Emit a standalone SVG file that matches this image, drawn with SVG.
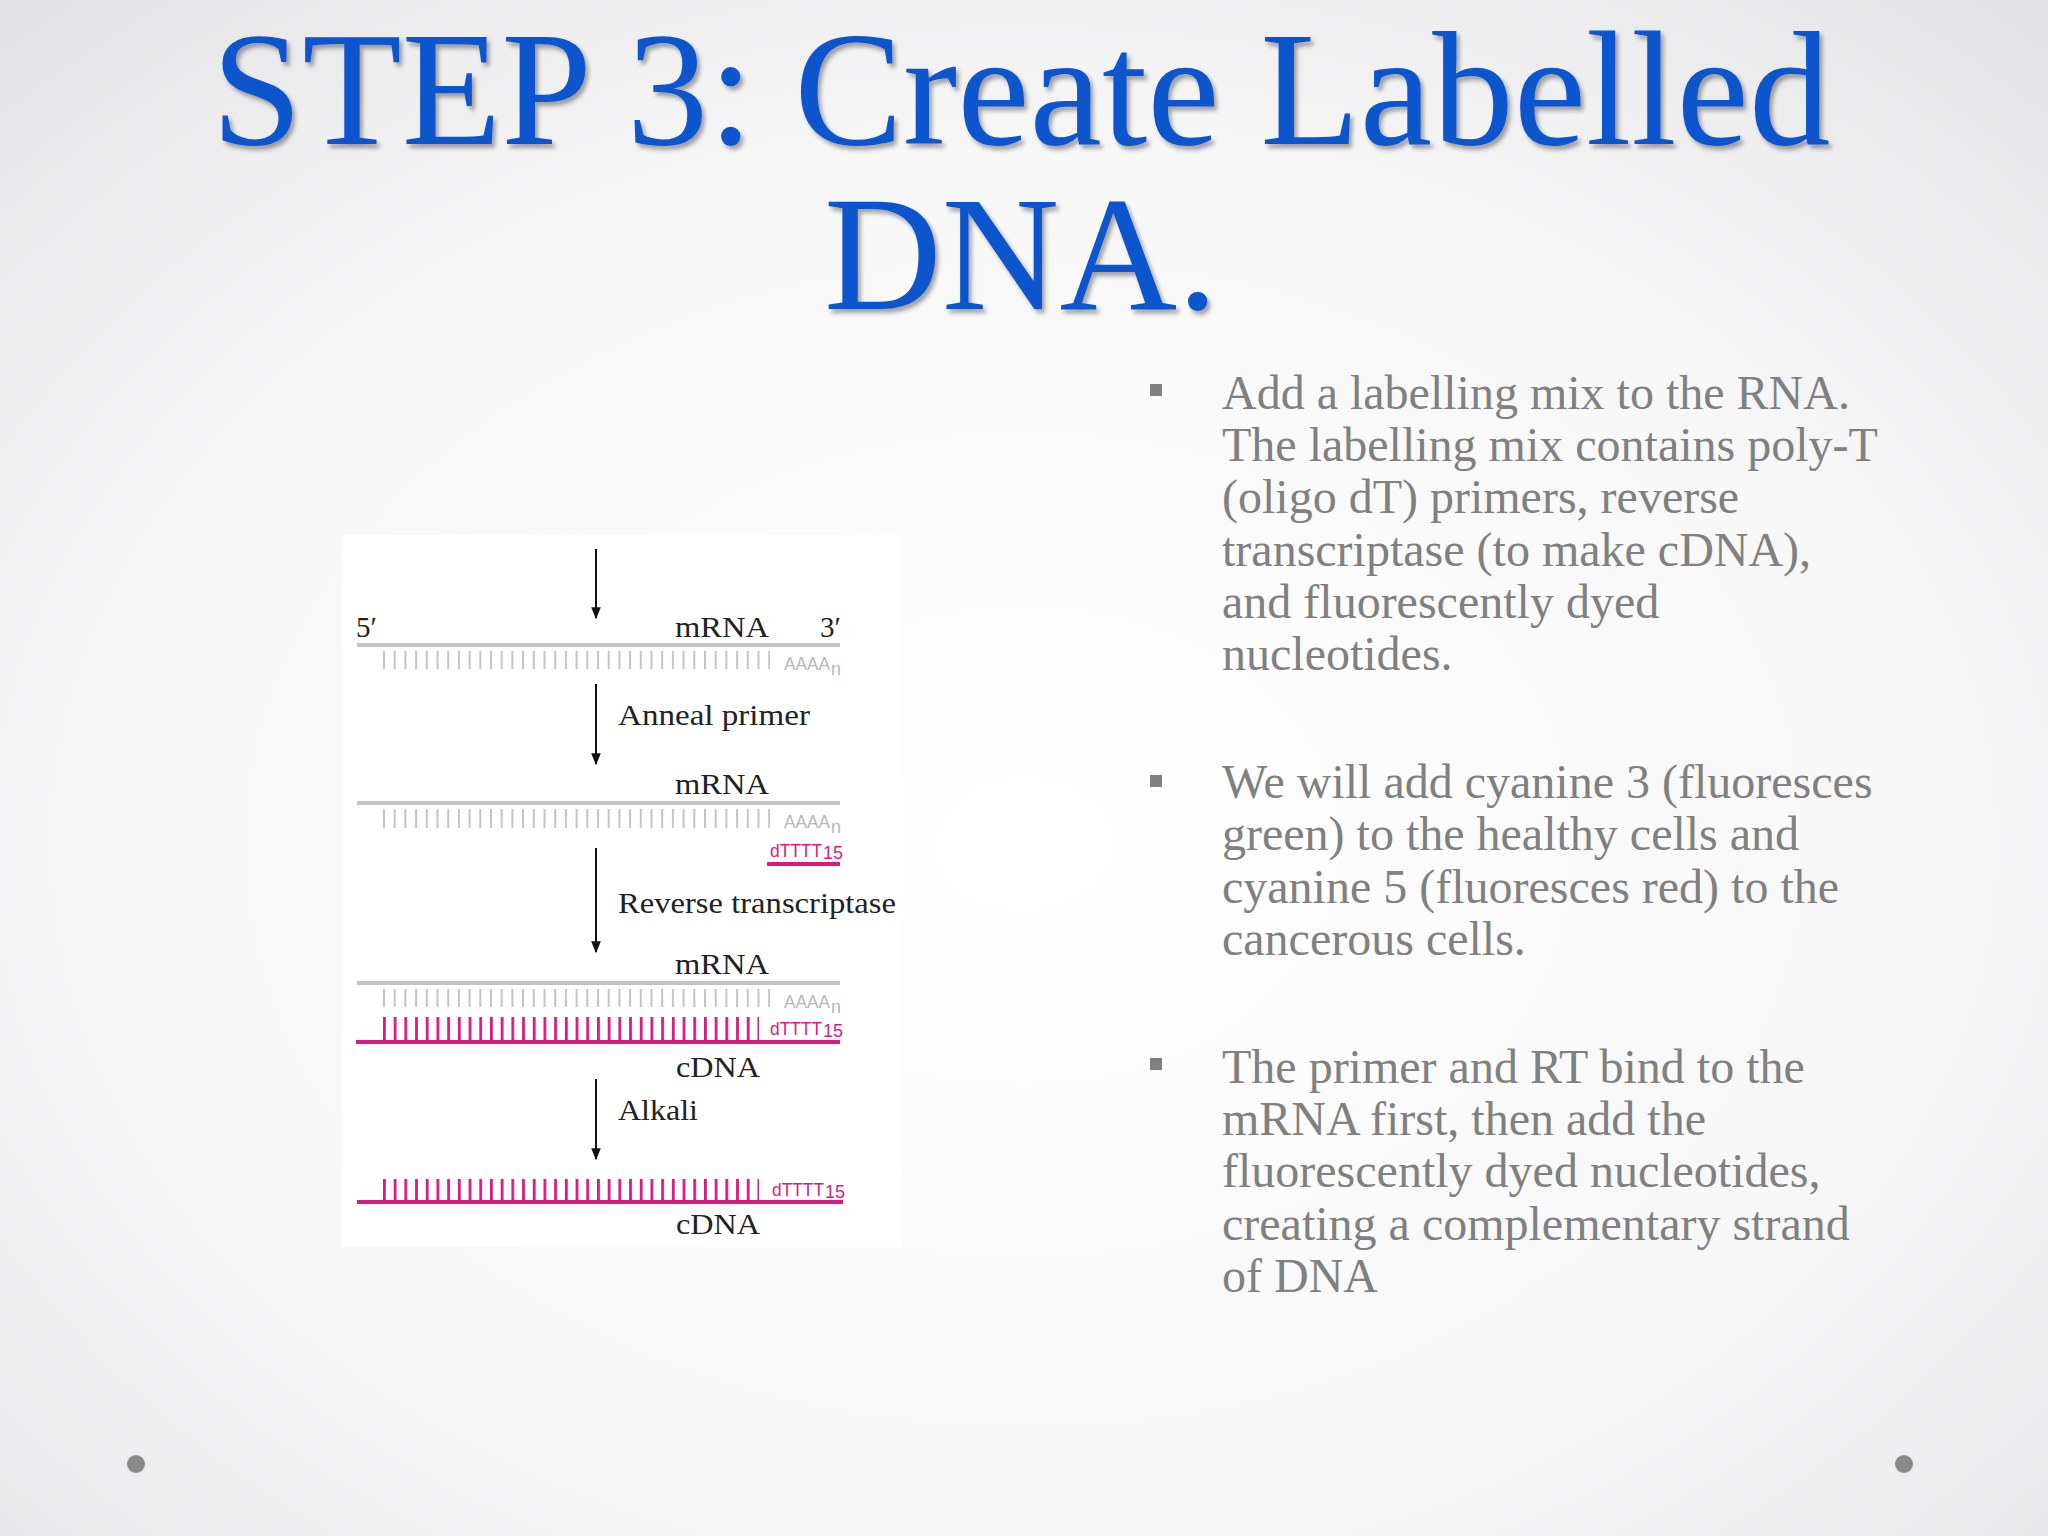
<svg xmlns="http://www.w3.org/2000/svg" width="2048" height="1536" viewBox="0 0 2048 1536">
<defs>
<radialGradient id="bg" cx="50%" cy="55%" r="75%">
<stop offset="0" stop-color="#ffffff"/><stop offset="0.6" stop-color="#f7f7f8"/><stop offset="1" stop-color="#e2e2e4"/>
</radialGradient>
<filter id="sh" x="-5%" y="-5%" width="110%" height="120%"><feDropShadow dx="3" dy="4" stdDeviation="2" flood-color="#000" flood-opacity="0.35"/></filter>
<marker id="ah" viewBox="0 0 10 10" refX="9" refY="5" markerWidth="6" markerHeight="6" orient="auto"><path d="M0,1 L10,5 L0,9 z" fill="#111"/></marker>
<pattern id="gt" width="10.7" height="20" patternUnits="userSpaceOnUse" x="383"><rect x="0" y="0" width="2" height="20" fill="#c4c4c4"/></pattern>
<pattern id="pt" width="10.7" height="30" patternUnits="userSpaceOnUse" x="383"><rect x="0" y="0" width="2.8" height="30" fill="#d81b7f"/></pattern>
</defs>
<style>
.title{font-family:"Liberation Serif",serif;font-size:163px;fill:#1155cc;text-anchor:middle}
.b{font-family:"Liberation Serif",serif;font-size:48px;fill:#808080}
.l{font-family:"Liberation Serif",serif;font-size:29px;fill:#222;lengthAdjust:spacingAndGlyphs}
.s{font-family:"Liberation Sans",sans-serif;font-size:18px;fill:#b8b8b8}
.p{font-family:"Liberation Sans",sans-serif;font-size:18px;fill:#d81b7f}
.arr{stroke:#111;stroke-width:2;marker-end:url(#ah)}
.g{stroke:#c4c4c4;stroke-width:4}
.pk{stroke:#d81b7f;stroke-width:4}
</style>
<rect width="2048" height="1536" fill="url(#bg)"/>
<g id="title" filter="url(#sh)">
<text class="title" x="1021" y="144">STEP 3: Create Labelled</text>
<text class="title" x="1021" y="309">DNA.</text>
</g>
<g id="figure">
<rect x="342" y="535" width="559" height="712" fill="#ffffff"/>
<g id="connectors">
<line class="arr" x1="596" y1="549" x2="596" y2="618"/>
<line class="arr" x1="596" y1="684" x2="596" y2="764"/>
<line class="arr" x1="596" y1="848" x2="596" y2="952"/>
<line class="arr" x1="596" y1="1079" x2="596" y2="1159"/>
</g>
<g id="s1">
<text class="l" x="356" y="637">5′</text>
<text class="l" x="675" y="637" textLength="94" lengthAdjust="spacingAndGlyphs">mRNA</text>
<text class="l" x="820" y="637">3′</text>
<line class="g" x1="357" y1="645" x2="840" y2="645"/>
<rect x="383" y="651" width="387" height="18" fill="url(#gt)"/>
<text class="s" x="784" y="670" textLength="46" lengthAdjust="spacingAndGlyphs">AAAA</text><text class="s" x="831" y="675" font-size="14">n</text>
</g>
<text class="l" x="618" y="725" textLength="192" lengthAdjust="spacingAndGlyphs">Anneal primer</text>
<g id="s2">
<text class="l" x="675" y="794" textLength="94" lengthAdjust="spacingAndGlyphs">mRNA</text>
<line class="g" x1="357" y1="803" x2="840" y2="803"/>
<rect x="383" y="809" width="387" height="19" fill="url(#gt)"/>
<text class="s" x="784" y="828" textLength="46" lengthAdjust="spacingAndGlyphs">AAAA</text><text class="s" x="831" y="833" font-size="14">n</text>
<text class="p" x="770" y="857" textLength="52" lengthAdjust="spacingAndGlyphs">dTTTT</text><text class="p" x="823" y="859" font-size="16">15</text>
<line class="pk" x1="767" y1="864" x2="840" y2="864"/>
</g>
<text class="l" x="618" y="913" textLength="278" lengthAdjust="spacingAndGlyphs">Reverse transcriptase</text>
<g id="s3">
<text class="l" x="675" y="974" textLength="94" lengthAdjust="spacingAndGlyphs">mRNA</text>
<line class="g" x1="357" y1="983" x2="840" y2="983"/>
<rect x="383" y="989" width="387" height="18" fill="url(#gt)"/>
<text class="s" x="784" y="1008" textLength="46" lengthAdjust="spacingAndGlyphs">AAAA</text><text class="s" x="831" y="1013" font-size="14">n</text>
<rect x="383" y="1017" width="376" height="25" fill="url(#pt)"/>
<text class="p" x="770" y="1035" textLength="52" lengthAdjust="spacingAndGlyphs">dTTTT</text><text class="p" x="823" y="1037" font-size="16">15</text>
<line class="pk" x1="356" y1="1042" x2="840" y2="1042"/>
<text class="l" x="676" y="1077" textLength="84" lengthAdjust="spacingAndGlyphs">cDNA</text>
</g>
<text class="l" x="618" y="1120" textLength="80" lengthAdjust="spacingAndGlyphs">Alkali</text>
<g id="s4">
<rect x="383" y="1179" width="376" height="22" fill="url(#pt)"/>
<text class="p" x="772" y="1196" textLength="52" lengthAdjust="spacingAndGlyphs">dTTTT</text><text class="p" x="825" y="1198" font-size="16">15</text>
<line class="pk" x1="357" y1="1202" x2="843" y2="1202"/>
<text class="l" x="676" y="1234" textLength="84" lengthAdjust="spacingAndGlyphs">cDNA</text>
</g>
</g>
<g id="bullets" fill="#808080">
<rect x="1150" y="384" width="12" height="12"/>
<rect x="1150" y="775" width="12" height="12"/>
<rect x="1150" y="1058" width="12" height="12"/>
<text class="b" x="1222" y="409">Add a labelling mix to the RNA.</text>
<text class="b" x="1222" y="461">The labelling mix contains poly-T</text>
<text class="b" x="1222" y="513">(oligo dT) primers, reverse</text>
<text class="b" x="1222" y="566">transcriptase (to make cDNA),</text>
<text class="b" x="1222" y="618">and fluorescently dyed</text>
<text class="b" x="1222" y="670">nucleotides.</text>
<text class="b" x="1222" y="798">We will add cyanine 3 (fluoresces</text>
<text class="b" x="1222" y="850">green) to the healthy cells and</text>
<text class="b" x="1222" y="903">cyanine 5 (fluoresces red) to the</text>
<text class="b" x="1222" y="955">cancerous cells.</text>
<text class="b" x="1222" y="1083">The primer and RT bind to the</text>
<text class="b" x="1222" y="1135">mRNA first, then add the</text>
<text class="b" x="1222" y="1187">fluorescently dyed nucleotides,</text>
<text class="b" x="1222" y="1240">creating a complementary strand</text>
<text class="b" x="1222" y="1292">of DNA</text>
</g>
<circle cx="136" cy="1464" r="9" fill="#8a8a8a"/>
<circle cx="1904" cy="1464" r="9" fill="#8a8a8a"/>
</svg>
